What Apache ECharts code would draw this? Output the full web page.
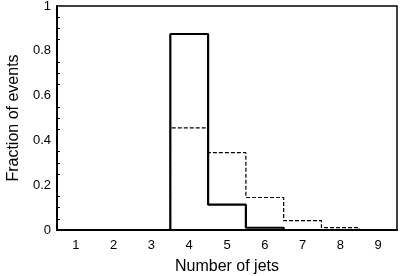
<!DOCTYPE html>
<html><head><meta charset="utf-8">
<script src="https://cdn.jsdelivr.net/npm/echarts@6/dist/echarts.min.js"></script>
<style>html,body{margin:0;padding:0;background:#fff}#c{width:403px;height:276px}</style>
</head><body><div id="c"></div>
<script>
const categories = ['1','2','3','4','5','6','7','8','9'];
const solidValues = [0, 0, 0, 0.875, 0.113, 0.01, 0, 0, 0];
const dashedValues = [0, 0, 0, 0.456, 0.345, 0.145, 0.042, 0.011, 0];
const yTicks = [0, 0.2, 0.4, 0.6, 0.8, 1];

const font = 'Liberation Sans, Arial, Helvetica, sans-serif';
const chart = echarts.init(document.getElementById('c'), null, {renderer: 'canvas'});
chart.setOption({
  animation: false,
  grid: {left: 57, right: 6, top: 6, bottom: 46, show: true, borderColor: '#000', borderWidth: 1.5,
    backgroundColor: 'transparent', containLabel: false, outerBoundsMode: 'none'},
  xAxis: {
    type: 'category', data: categories, boundaryGap: true,
    name: 'Number of jets', nameLocation: 'middle', nameGap: 29,
    nameTextStyle: {fontFamily: font, fontSize: 16, color: '#000'},
    axisLine: {lineStyle: {color: '#000', width: 2}},
    axisTick: {inside: true, length: 4, lineStyle: {color: '#000', width: 1}},
    axisLabel: {fontFamily: font, fontSize: 13, color: '#000', margin: 9},
    splitLine: {show: false}
  },
  yAxis: {
    type: 'value', min: 0, max: 1, interval: 0.2,
    name: 'Fraction of events', nameLocation: 'middle', nameGap: 33,
    nameTextStyle: {fontFamily: font, fontSize: 16, color: '#000'},
    axisLine: {show: true, lineStyle: {color: '#000', width: 2}},
    axisTick: {inside: true, length: 4, lineStyle: {color: '#000', width: 1}},
    minorTick: {show: true, splitNumber: 4, length: 3, lineStyle: {color: '#000', width: 1}},
    axisLabel: {fontFamily: font, fontSize: 13, color: '#000', margin: 6,
      formatter: v => yTicks.includes(+v.toFixed(2)) ? String(+v.toFixed(2)) : ''},
    splitLine: {show: false}
  },
  series: [
    {type: 'line', step: 'middle', data: dashedValues, symbol: 'none', clip: false,
      lineStyle: {color: '#000', width: 1.2, type: [4, 2]}},
    {type: 'line', step: 'middle', data: solidValues, symbol: 'none', clip: false,
      lineStyle: {color: '#000', width: 2.2}}
  ]
});
</script></body></html>
